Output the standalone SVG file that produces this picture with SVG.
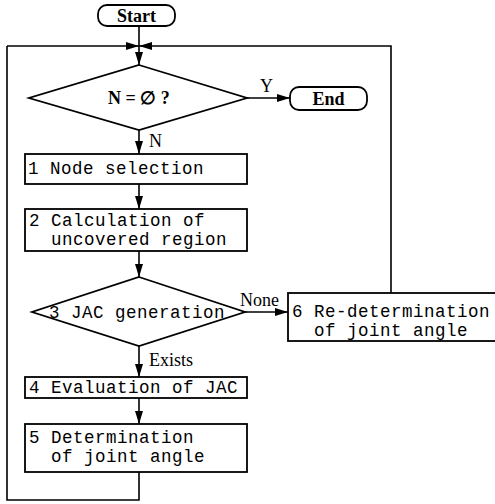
<svg xmlns="http://www.w3.org/2000/svg" width="495" height="504" viewBox="0 0 495 504">
  <defs>
    <marker id="arrow" viewBox="0 0 13 8" refX="13" refY="4" markerWidth="13" markerHeight="8" markerUnits="userSpaceOnUse" orient="auto">
      <path d="M0,0 L13,4 L0,8 Z" fill="#000"/>
    </marker>
  </defs>
  <style>
    .shape { fill: #fff; stroke: #000; stroke-width: 1.8; }
    .line { fill: none; stroke: #000; stroke-width: 1.6; }
    .flow { fill: none; stroke: #000; stroke-width: 1.6; marker-end: url(#arrow); }
    .mono { font-family: "Liberation Mono", "Courier New", monospace; font-size: 17.5px; letter-spacing: 0.5px; fill: #000; }
    .term { font-family: "Liberation Serif", "Times New Roman", serif; font-size: 18px; font-weight: bold; fill: #000; }
    .lbl { font-family: "Liberation Serif", "Times New Roman", serif; font-size: 18px; fill: #000; }
  </style>

  <g id="connectors">
    <line class="line" x1="139" y1="26" x2="139" y2="46"/>
    <path class="flow" d="M7,46 L139,46"/>
    <path class="flow" d="M391,293 L391,46 L139,46"/>
    <path class="flow" d="M139,46 L139,65"/>
    <path class="flow" d="M247,98 L290,98"/>
    <path class="flow" d="M139,130 L139,154"/>
    <path class="flow" d="M139,184 L139,209"/>
    <path class="flow" d="M139,251 L139,277"/>
    <path class="flow" d="M245,312 L288,312"/>
    <path class="flow" d="M139,346 L139,377"/>
    <path class="flow" d="M139,398 L139,424"/>
    <path class="line" d="M139,472 L139,500 L7,500 L7,46"/>
    <text class="lbl" x="260" y="92">Y</text>
    <text class="lbl" x="149" y="147">N</text>
    <text class="lbl" x="240" y="306">None</text>
    <text class="lbl" x="149" y="366">Exists</text>
  </g>

  <g id="start">
    <rect class="shape" x="98" y="5" width="77" height="21" rx="9"/>
    <text class="term" x="136.5" y="21.5" text-anchor="middle">Start</text>
  </g>

  <g id="end">
    <rect class="shape" x="290" y="87" width="77" height="23" rx="9"/>
    <text class="term" x="328.5" y="104.5" text-anchor="middle">End</text>
  </g>

  <g id="check-empty">
    <polygon class="shape" points="139,65 247,98 139,130 29,98"/>
    <text class="term" x="139" y="104" text-anchor="middle">N = ∅ ?</text>
  </g>

  <g id="node-selection">
    <rect class="shape" x="25" y="154" width="222" height="30"/>
    <text class="mono" x="28" y="174">1 Node selection</text>
  </g>

  <g id="uncovered-region">
    <rect class="shape" x="25" y="209" width="222" height="42"/>
    <text class="mono" x="29" y="226">2 Calculation of</text>
    <text class="mono" x="51" y="244.5">uncovered region</text>
  </g>

  <g id="jac-generation">
    <polygon class="shape" points="139,277 245,312 139,346 32,312"/>
    <text class="mono" x="49" y="318">3 JAC generation</text>
  </g>

  <g id="redetermination">
    <rect class="shape" x="288" y="293" width="210" height="48"/>
    <text class="mono" x="292" y="317">6 Re-determination</text>
    <text class="mono" x="314" y="335.5">of joint angle</text>
  </g>

  <g id="jac-evaluation">
    <rect class="shape" x="25" y="377" width="222" height="21"/>
    <text class="mono" x="29" y="393">4 Evaluation of JAC</text>
  </g>

  <g id="determination">
    <rect class="shape" x="25" y="424" width="222" height="48"/>
    <text class="mono" x="29" y="443">5 Determination</text>
    <text class="mono" x="51" y="461.5">of joint angle</text>
  </g>
</svg>
